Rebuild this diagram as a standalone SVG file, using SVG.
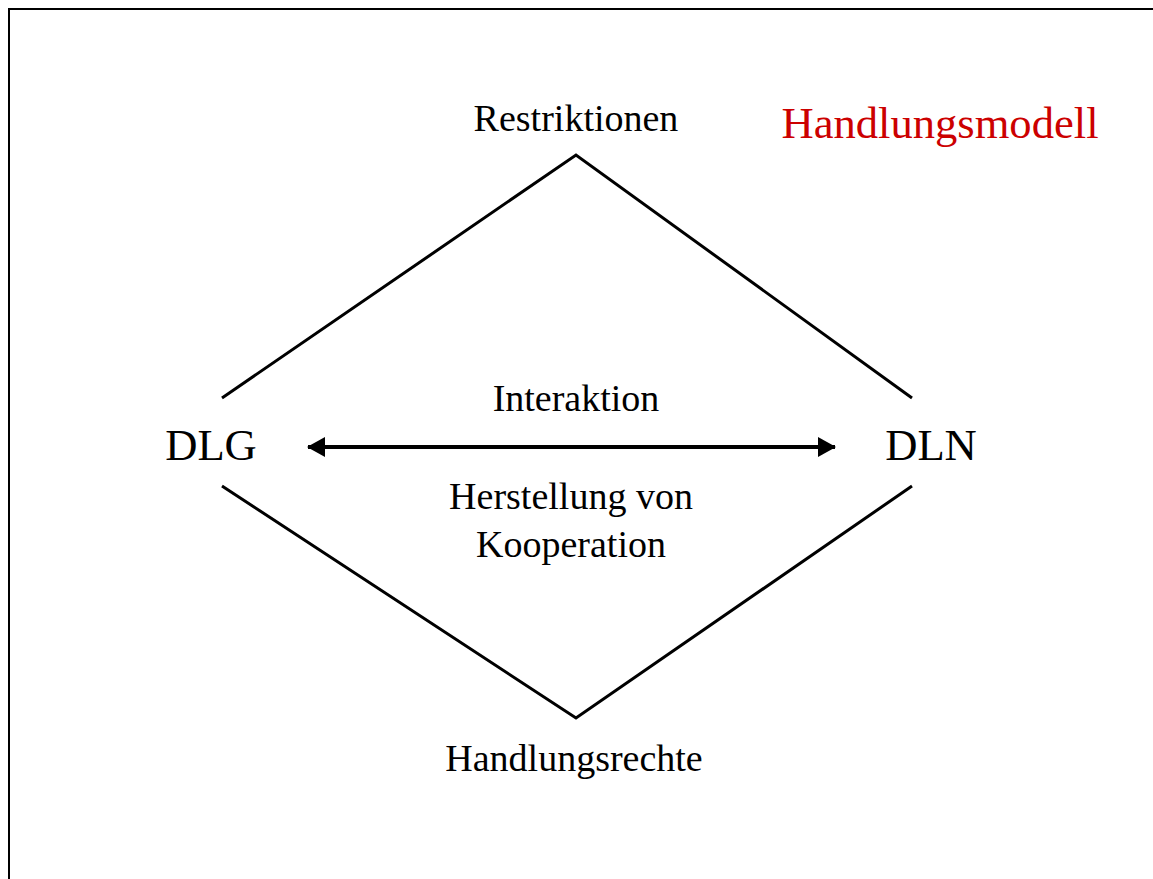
<svg xmlns="http://www.w3.org/2000/svg" width="1153" height="879" viewBox="0 0 1153 879">
<style>
.t{font-family:"Liberation Serif","Times New Roman",serif;fill:#000;text-anchor:middle}
.s{font-size:38px}
.b{font-size:44.6px}
.e{stroke:#000;stroke-width:3;fill:none}
</style>
<defs>
<marker id="ah" viewBox="0 0 18 20" refX="17" refY="10" markerWidth="18" markerHeight="20" markerUnits="userSpaceOnUse" orient="auto-start-reverse">
<path d="M0,0 L18,10 L0,20 Z" fill="#000"/>
</marker>
</defs>
<rect width="1153" height="879" fill="#fff"/>
<path d="M9,879 V9 H1153" fill="none" stroke="#000" stroke-width="2"/>
<g id="title"><text class="t b" x="940" y="138" style="fill:#CC0000">Handlungsmodell</text></g>
<g id="restriktionen"><text class="t s" x="576" y="131">Restriktionen</text></g>
<g id="handlungsrechte"><text class="t s" x="574" y="771">Handlungsrechte</text></g>
<g id="dlg"><text class="t b" x="211" y="460">DLG</text></g>
<g id="dln"><text class="t b" x="931" y="460">DLN</text></g>
<g id="interaktion"><text class="t s" x="576" y="411">Interaktion</text></g>
<g id="kooperation"><text class="t s" x="571" y="509">Herstellung von</text><text class="t s" x="571" y="557">Kooperation</text></g>
<g id="connectors">
<path class="e" d="M222,398 L576,155 L912,398"/>
<path class="e" d="M222,486 L576,718 L912,486"/>
<line x1="308" y1="447" x2="835" y2="447" stroke="#000" stroke-width="4" marker-start="url(#ah)" marker-end="url(#ah)"/>
</g>
</svg>
